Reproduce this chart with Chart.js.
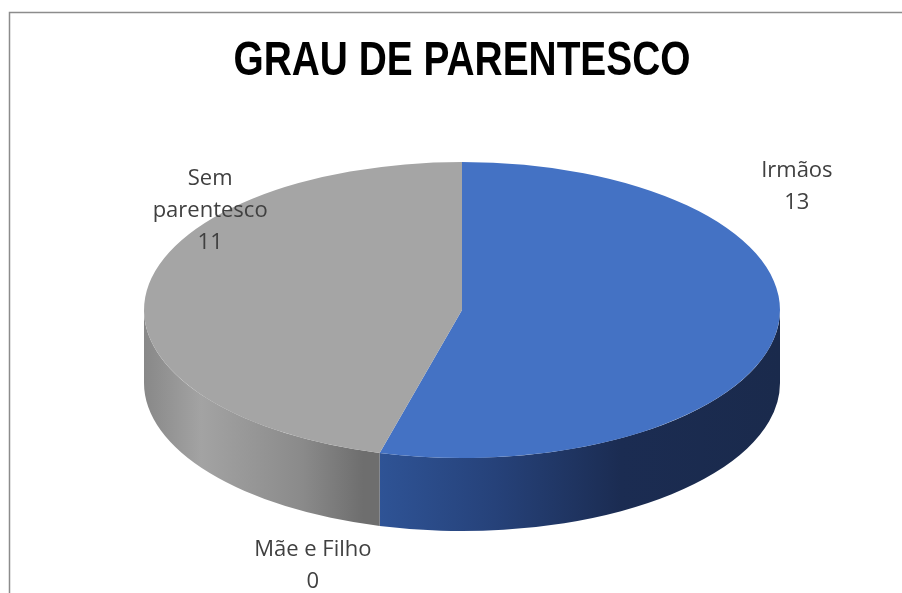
<!DOCTYPE html>
<html>
<head>
<meta charset="utf-8">
<script src="https://cdn.jsdelivr.net/npm/chart.js@4/dist/chart.umd.min.js"></script>
<style>
  html, body { margin: 0; padding: 0; background: #fff; }
  canvas { display: block; }
</style>
</head>
<body>
<canvas id="chart" width="902" height="593"></canvas>
<script>
const chartTitle = 'GRAU DE PARENTESCO';
const categories = ['Irmãos', 'Mãe e Filho', 'Sem parentesco'];
const values = [13, 0, 11];
const topColors = ['#4472C4', '#ED7D31', '#A5A5A5'];

// wall shading per slice: [stop position across the pie width, colour]
const wallStops = [
  [[0.34, '#30569a'], [0.55, '#26427a'], [0.75, '#1b2c52'], [1, '#1a2a4c']],
  [[0, '#b05a20'], [1, '#b05a20']],
  [[0, '#888888'], [0.09, '#a3a3a3'], [0.25, '#8a8a8a'], [0.345, '#6e6e6e']]
];
// label block centres, relative to the pie centre in units of the ellipse radii
const labelOffsets = [[1.053, -0.834], [-0.469, 1.726], [-0.792, -0.669]];

const SX = 318 / 148;   // horizontal stretch of the pie (circle radius 148)
const DEPTH = 73;
const LABEL_FONT = '22px "Open Sans", "Liberation Sans", sans-serif';
const TITLE_FONT = 'bold 48px "Liberation Sans", Arial, sans-serif';
const LINE_H = 32;

const pie3d = {
  id: 'pie3d',
  beforeDraw(chart) {
    const ctx = chart.ctx;
    ctx.save();
    ctx.strokeStyle = '#8c8c8c';
    ctx.lineWidth = 1.5;
    ctx.beginPath();
    ctx.moveTo(9.5, chart.height);
    ctx.lineTo(9.5, 12.5);
    ctx.lineTo(chart.width, 12.5);
    ctx.stroke();
    ctx.restore();
  },
  beforeDatasetsDraw(chart) {
    const ctx = chart.ctx;
    const arcs = chart.getDatasetMeta(0).data;
    const cx = arcs[0].x, cy = arcs[0].y, R = arcs[0].outerRadius;
    const rx = R * SX, ry = R;
    arcs.forEach((arc, i) => {
      const s = Math.max(arc.startAngle, 0);
      const e = Math.min(arc.endAngle, Math.PI);
      if (e <= s) return;
      const g = ctx.createLinearGradient(cx - rx, 0, cx + rx, 0);
      wallStops[i].forEach(st => g.addColorStop(st[0], st[1]));
      ctx.beginPath();
      ctx.ellipse(cx, cy, rx, ry, 0, s, e);
      ctx.ellipse(cx, cy + DEPTH, rx, ry, 0, e, s, true);
      ctx.closePath();
      ctx.fillStyle = g;
      ctx.fill();
    });
    ctx.save();
    ctx.translate(cx, cy);
    ctx.scale(SX, 1);
    ctx.translate(-cx, -cy);
  },
  afterDatasetsDraw(chart) {
    chart.ctx.restore();
  },
  afterDraw(chart) {
    const ctx = chart.ctx;
    const arcs = chart.getDatasetMeta(0).data;
    const cx = arcs[0].x, cy = arcs[0].y, R = arcs[0].outerRadius;
    ctx.save();
    // title, squeezed to the narrow width of the original heading
    ctx.font = TITLE_FONT;
    ctx.fillStyle = '#000';
    ctx.textAlign = 'center';
    ctx.textBaseline = 'middle';
    ctx.fillText(chartTitle, cx, 62, 457);

    ctx.font = LABEL_FONT;
    ctx.fillStyle = '#404040';
    categories.forEach((name, i) => {
      const lines = ctx.measureText(name).width > 140 ? name.split(' ') : [name];
      lines.push(String(values[i]));
      const x = cx + labelOffsets[i][0] * R * SX;
      const y = cy + labelOffsets[i][1] * R - (lines.length - 1) * LINE_H / 2;
      lines.forEach((t, k) => ctx.fillText(t, x, y + k * LINE_H));
    });
    ctx.restore();
  }
};

new Chart(document.getElementById('chart'), {
  type: 'pie',
  data: {
    labels: categories,
    datasets: [{
      data: values,
      backgroundColor: topColors,
      borderWidth: 0,
      clip: false
    }]
  },
  options: {
    responsive: false,
    animation: false,
    layout: { padding: { left: 22, right: 0, top: 162, bottom: 135 } },
    plugins: {
      legend: { display: false },
      tooltip: { enabled: false },
      title: { display: false }
    }
  },
  plugins: [pie3d]
});
</script>
</body>
</html>
